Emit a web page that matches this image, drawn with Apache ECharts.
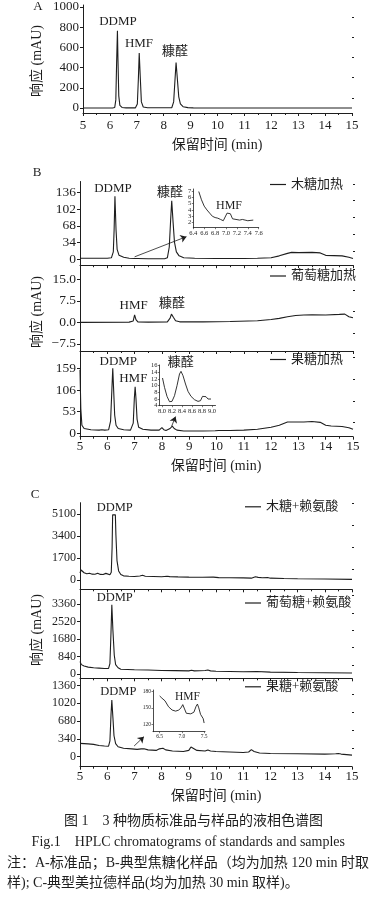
<!DOCTYPE html>
<html><head><meta charset="utf-8">
<script src="https://cdn.jsdelivr.net/npm/echarts@6/dist/echarts.min.js"></script>
<style>html,body{margin:0;padding:0;background:#fff}#c{width:387px;height:898px}</style>
</head><body><div id="c"></div>
<script>
// ---------------- DATA: [retention time (min), response (mAU)] ----------------
const curveStandard = [[5,0],[6.1,0],[6.18,5],[6.22,80],[6.25,450],[6.28,765],[6.3,480],[6.33,120],[6.37,25],[6.45,5],[6.6,1],[6.95,1],[7.02,40],[7.06,300],[7.09,545],[7.13,300],[7.17,60],[7.24,10],[7.4,2],[8.3,2],[8.37,60],[8.42,280],[8.46,450],[8.51,280],[8.56,110],[8.62,40],[8.72,12],[8.9,3],[9.1,1],[15,0]];

const curveXyloseHeat = [[5,2],[5.5,2],[6.0,2],[6.15,3],[6.22,15],[6.25,60],[6.28,128],[6.32,60],[6.36,20],[6.43,8],[6.6,4],[6.8,2],[7.0,1.5],[7.05,3],[7.1,1.5],[7.5,1],[8.1,1],[8.2,3],[8.27,25],[8.32,80],[8.36,119],[8.41,75],[8.46,35],[8.53,15],[8.63,7],[8.8,3],[9.2,2],[10,1.5],[11,1.5],[11.5,2],[12,3],[12.3,7],[12.6,12],[12.75,14],[13,13.5],[13.5,14],[13.8,13],[14.0,8],[14.3,7.5],[14.6,7],[14.85,4],[15,1.5]];
const insetXyloseHMF = [[6.5,6.9],[6.55,5.6],[6.6,4.6],[6.65,4.0],[6.7,3.5],[6.75,3.0],[6.8,2.8],[6.85,2.7],[6.9,2.5],[6.95,2.3],[6.98,2.6],[7.02,3.5],[7.05,3.8],[7.08,3.4],[7.12,2.6],[7.15,2.4],[7.25,2.4],[7.3,2.5],[7.35,2.4],[7.4,2.3],[7.5,2.4]];

const curveGlucoseHeat = [[5,0],[6.8,0.1],[6.95,0.5],[7.0,2.6],[7.05,1.0],[7.12,0.2],[7.5,0.1],[8.2,0.2],[8.3,1.5],[8.35,2.9],[8.42,1.8],[8.5,0.6],[8.65,0.2],[9.5,0.2],[10.5,0.3],[11.5,0.6],[12,1.0],[12.3,1.4],[12.6,2.0],[12.9,2.4],[13.2,2.6],[13.5,2.7],[14,2.6],[14.5,2.8],[14.7,2.9],[14.85,2.0],[15,1.6]];

const curveFructoseHeat = [[5,155],[5.03,60],[5.07,20],[5.15,12],[5.4,9],[5.7,8],[5.8,9],[5.9,8],[6.05,9],[6.12,30],[6.17,110],[6.2,159],[6.23,110],[6.27,45],[6.32,20],[6.4,12],[6.6,9],[6.85,8],[6.95,25],[6.99,85],[7.02,114],[7.05,85],[7.09,35],[7.15,15],[7.3,10],[7.6,8],[7.9,8],[8.0,14],[8.07,9],[8.15,7],[8.3,12],[8.38,18],[8.45,12],[8.55,8],[8.8,6],[9.0,6],[9.5,6],[9.95,6.5],[10.0,9],[10.08,7],[10.5,7],[11,8],[11.5,10],[12,15],[12.3,20],[12.6,28],[12.8,28],[13.2,28],[13.5,29],[13.8,27],[14.0,20],[14.2,18],[14.6,17],[14.85,14],[15,10]];
const insetFructoseFurfural = [[8.01,12.3],[8.05,9.5],[8.1,6.8],[8.15,5.2],[8.2,5.3],[8.25,7.0],[8.3,10],[8.35,13.5],[8.38,14.3],[8.42,13.0],[8.47,10.5],[8.52,8.3],[8.58,6.8],[8.65,5.8],[8.72,5.3],[8.77,5.5],[8.81,6.8],[8.84,7.3],[8.88,6.7],[8.92,6.0],[8.98,6.0]];

const curveXyloseLys = [[5.0,540],[5.04,770],[5.08,720],[5.15,560],[5.25,480],[5.35,520],[5.45,450],[5.55,440],[5.65,520],[5.75,430],[5.85,420],[5.95,510],[6.02,470],[6.1,400],[6.15,600],[6.18,2500],[6.2,5030],[6.3,5030],[6.32,3500],[6.36,1500],[6.42,700],[6.5,420],[6.6,320],[6.8,290],[7.0,270],[7.2,310],[7.3,360],[7.4,290],[7.7,270],[8.0,250],[8.2,290],[8.3,260],[8.6,240],[9.0,220],[9.5,210],[9.9,220],[10.1,180],[10.5,170],[11.0,160],[11.3,140],[11.45,250],[11.55,200],[11.7,170],[11.9,190],[12.0,140],[12.5,110],[13,90],[14,70],[15,50]];

const curveGlucoseLys = [[5,600],[5.05,450],[5.15,380],[5.3,330],[5.5,300],[5.7,280],[5.9,260],[6.05,270],[6.1,500],[6.14,2000],[6.17,3320],[6.21,2100],[6.26,900],[6.31,450],[6.4,300],[6.5,230],[7,200],[7.5,190],[8,170],[8.5,160],[9,150],[9.1,180],[9.2,150],[9.6,170],[9.7,190],[9.8,150],[10,130],[11,110],[11.5,120],[12,90],[13,70],[14,60],[15,50]];

const curveFructoseLys = [[5,255],[5.3,245],[5.5,235],[5.7,215],[5.9,205],[6.05,200],[6.1,300],[6.14,800],[6.17,1080],[6.21,750],[6.25,400],[6.31,250],[6.4,190],[6.6,160],[6.9,150],[7.1,140],[7.25,150],[7.3,180],[7.35,150],[7.5,130],[7.8,120],[7.92,150],[7.98,185],[8.05,160],[8.15,130],[8.4,110],[8.8,100],[9.0,120],[9.08,185],[9.15,150],[9.3,120],[9.6,110],[9.7,130],[9.8,110],[10,100],[10.5,90],[11,80],[11.2,90],[11.3,135],[11.4,100],[11.6,70],[12,60],[13,55],[14,50],[14.4,55],[14.5,60],[14.6,50],[15,30]];
const insetFructoseLysHMF = [[6.5,172],[6.55,168],[6.62,163],[6.7,152],[6.78,146],[6.86,144],[6.93,146],[6.98,150],[7.02,156],[7.06,148],[7.1,140],[7.2,139],[7.27,142],[7.32,153],[7.35,157],[7.38,150],[7.42,138],[7.48,130],[7.5,122]];

// ---------------- TICK LABELS ----------------
const ticksA = [0,200,400,600,800,1000];
const ticksBTop = [0,34,68,102,136];
const ticksBMid = [-7.5,0,7.5,15];
const ticksBBot = [0,53,106,159];
const ticksCTop = [0,1700,3400,5100];
const ticksCMid = [0,840,1680,2520,3360];
const ticksCBot = [0,340,680,1020,1360];
const insetBTopX = [6.4,6.6,6.8,7.0,7.2,7.4,7.6];
const insetBTopY = [2,3,4,5,6,7];
const insetBBotX = [8.0,8.2,8.4,8.6,8.8,9.0];
const insetBBotY = [4,6,8,10,12,14,16];
const insetCBotX = [6.5,7.0,7.5];
const insetCBotY = [120,150,180];

// ---------------- BUILD ----------------
const SERIF = '"Liberation Serif","Times New Roman","Noto Sans CJK SC",serif';
const INK = '#1e1e1e';
const plain = v => String(v);
const grids = [], xAxes = [], yAxes = [], series = [];

function midpoints(arr){ const r=[]; for(let i=0;i<arr.length-1;i++) r.push((arr[i]+arr[i+1])/2); r.push(arr[arr.length-1]+(arr[1]-arr[0])/2); return r; }

function panel(o){
  const gi = grids.length;
  grids.push({left:o.left, top:o.top, width:o.width, height:o.height});
  const axisLine = {onZero:false, lineStyle:{color:INK, width:o.inset?0.8:1}};
  if (o.inset){
    xAxes.push({gridIndex:gi, type:'value', min:o.xmin, max:o.xmax, axisLine,
      axisTick:{customValues:o.xLabels, length:1.5, lineStyle:{color:INK,width:0.6}},
      axisLabel:{customValues:o.xLabels, formatter:o.xFmt, fontSize:o.fs, fontFamily:SERIF, color:INK, margin:2},
      splitLine:{show:false}});
    yAxes.push({gridIndex:gi, type:'value', min:o.ymin, max:o.ymax, axisLine,
      axisTick:{customValues:o.yLabels, length:1.5, lineStyle:{color:INK,width:0.6}},
      axisLabel:{customValues:o.yLabels, formatter:plain, fontSize:o.fs, fontFamily:SERIF, color:INK, margin:2},
      splitLine:{show:false}});
  } else {
    xAxes.push({gridIndex:gi, type:'value', min:5, max:15, interval:1, axisLine,
      axisTick:{length:3, lineStyle:{color:INK}},
      minorTick:{show:true, splitNumber:2, length:2, lineStyle:{color:INK}},
      axisLabel:{show:!!o.xLabelsShow, formatter:plain, fontSize:13, fontFamily:SERIF, color:INK, margin:o.xMargin||4},
      splitLine:{show:false}, minorSplitLine:{show:false}});
    yAxes.push({gridIndex:gi, type:'value', min:o.ymin, max:o.ymax, axisLine,
      axisTick:{customValues:o.yLabels, length:3, lineStyle:{color:INK}},
      axisLabel:{customValues:o.yLabels, formatter:o.yFmt||plain, fontSize:o.yfs||13, fontFamily:SERIF, color:INK, margin:4},
      splitLine:{show:false}});
  }
  const yi = yAxes.length-1;
  if (!o.inset){
    yAxes.push({gridIndex:gi, type:'value', min:o.ymin, max:o.ymax, axisLine:{show:false},
      axisTick:{customValues:midpoints(o.yLabels).filter(v=>v<o.ymax), length:2, lineStyle:{color:INK}},
      axisLabel:{show:false}, splitLine:{show:false}});
  }
  const s = {type:'line', name:o.name, xAxisIndex:gi, yAxisIndex:yi, data:o.data,
    showSymbol:false, symbol:'none', color:INK, lineStyle:{color:INK, width:o.inset?0.9:1.1},
    animation:false, silent:true, z:3};
  if (o.arrow){
    s.markLine = {silent:true, symbol:['none','arrow'], symbolSize:6, animation:false,
      lineStyle:{color:INK, width:0.8, type:'solid'}, label:{show:false},
      data:[[{coord:o.arrow[0]},{coord:o.arrow[1]}]]};
  }
  series.push(s);
}

// Panel A
panel({name:'标准品', left:83, top:5, width:269, height:108, ymin:-50, ymax:1020, yLabels:ticksA, data:curveStandard, xLabelsShow:true, xMargin:6});
// Panel B
panel({name:'木糖加热', left:80, top:181.5, width:273, height:83.7, ymin:-12, ymax:158, yLabels:ticksBTop, yfs:13.5, data:curveXyloseHeat, arrow:[[7.0,5],[8.9,46]]});
panel({name:'葡萄糖加热', left:80, top:265.2, width:273, height:85.8, ymin:-10, ymax:20, yLabels:ticksBMid, yfs:13.5, yFmt:v=>v.toFixed(1).replace('-','−'), data:curveGlucoseHeat});
panel({name:'果糖加热', left:80, top:351, width:273, height:85.7, ymin:-8, ymax:201, yLabels:ticksBBot, yfs:13.5, data:curveFructoseHeat, xLabelsShow:true, xMargin:3.5, arrow:[[8.36,18],[8.5,41]]});
panel({name:'木糖加热HMF', inset:true, left:193.3, top:189, width:65.4, height:38.7, xmin:6.4, xmax:7.6, ymin:1.2, ymax:7.3, xLabels:insetBTopX, yLabels:insetBTopY, xFmt:v=>v.toFixed(1), fs:6.5, data:insetXyloseHMF});
panel({name:'果糖加热糠醛', inset:true, left:159.5, top:365, width:56, height:40.7, xmin:7.95, xmax:9.07, ymin:4, ymax:16.2, xLabels:insetBBotX, yLabels:insetBBotY, xFmt:v=>v.toFixed(1), fs:6.5, data:insetFructoseFurfural});
// Panel C
panel({name:'木糖+赖氨酸', left:80, top:502.7, width:272, height:86.6, ymin:-720, ymax:5970, yLabels:ticksCTop, yfs:12, data:curveXyloseLys});
panel({name:'葡萄糖+赖氨酸', left:80, top:589.3, width:272, height:89, ymin:-207, ymax:4066, yLabels:ticksCMid, yfs:12, data:curveGlucoseLys});
panel({name:'果糖+赖氨酸', left:80, top:678.3, width:272, height:88.4, ymin:-191, ymax:1497, yLabels:ticksCBot, yfs:12, data:curveFructoseLys, xLabelsShow:true, xMargin:3.5, arrow:[[6.99,204],[7.35,382]]});
panel({name:'果糖+赖氨酸HMF', inset:true, left:153, top:690, width:52, height:41.7, xmin:6.35, xmax:7.52, ymin:106, ymax:183, xLabels:insetCBotX, yLabels:insetCBotY, xFmt:v=>v.toFixed(1), fs:5.5, data:insetFructoseLysHMF});

// Legends
function lg(name, x, y){
  return {data:[name], left:x, top:y-7, icon:'rect', itemWidth:16, itemHeight:1.2, padding:0, selectedMode:false,
    textStyle:{fontSize:13, fontFamily:SERIF, color:INK, padding:[0,0,0,0]}};
}
const legends = [lg('木糖加热',270,185), lg('葡萄糖加热',270,276.5), lg('果糖加热',270,360),
  lg('木糖+赖氨酸',245,507.3), lg('葡萄糖+赖氨酸',245,603.5), lg('果糖+赖氨酸',245,687.3)];

// Text annotations
function t(text, x, y, size, extra){
  return Object.assign({type:'text', x, y, silent:true, style:{text, font:(size||13)+'px '+SERIF, fill:INK, align:'center', verticalAlign:'middle'}}, extra||{});
}
const graphics = [
  t('A',38,7,13), t('B',37,173,13), t('C',35,495,13),
  t('DDMP',118,22,13), t('HMF',139,44,13), t('糠醛',175,52,13),
  t('DDMP',113,188.3,13), t('糠醛',170,192.3,13), t('HMF',229,206,12),
  t('HMF',133.7,305.7,13), t('糠醛',172,303.3,13),
  t('DDMP',118.3,361.7,13), t('HMF',133.3,379,13), t('糠醛',180.8,362.7,13),
  t('DDMP',114.7,507.3,12.5), t('DDMP',114.7,597.3,12.5), t('DDMP',118.3,691.7,12.5), t('HMF',187.5,696.7,11.5),
  t('响应 (mAU)',37,61,14,{rotation:Math.PI/2}),
  t('响应 (mAU)',37,312,14,{rotation:Math.PI/2}),
  t('响应 (mAU)',37,630,14,{rotation:Math.PI/2}),
  t('保留时间 (min)',217,145,14), t('保留时间 (min)',216,466,14), t('保留时间 (min)',216,796.7,14),
  t('图 1　3 种物质标准品与样品的液相色谱图',193.5,821.7,14),
  t('Fig.1　HPLC chromatograms of standards and samples',188.3,842.3,14),
  {type:'text', x:7, y:863.3, silent:true, style:{text:'注：A-标准品；B-典型焦糖化样品（均为加热 120 min 时取', font:'14px '+SERIF, fill:INK, align:'left', verticalAlign:'middle'}},
  {type:'text', x:7, y:883.3, silent:true, style:{text:'样); C-典型美拉德样品(均为加热 30 min 取样)。', font:'14px '+SERIF, fill:INK, align:'left', verticalAlign:'middle'}}
];

const chart = echarts.init(document.getElementById('c'), null, {renderer:'canvas'});
chart.setOption({
  backgroundColor:'#fff', animation:false,
  grid:grids, xAxis:xAxes, yAxis:yAxes, series:series, legend:legends, graphic:graphics
});
</script></body></html>
